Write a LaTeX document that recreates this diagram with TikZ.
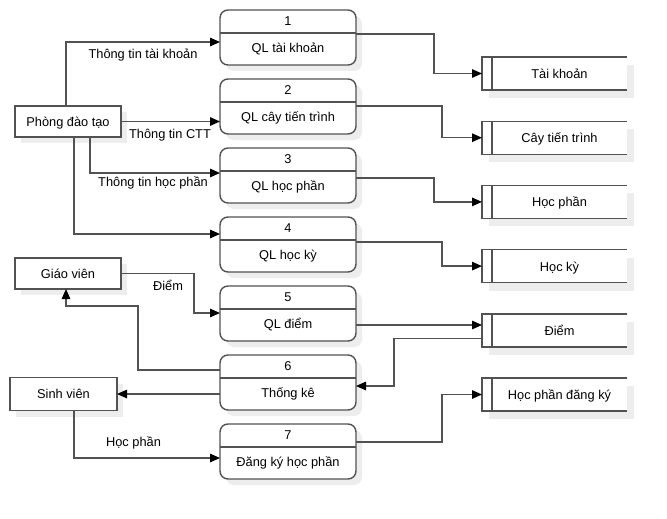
\documentclass[tikz,border=0pt]{standalone}
\usepackage{fontspec}
\setmainfont{Liberation Sans}
\usetikzlibrary{arrows.meta,calc,shadows}
\begin{document}
\begin{tikzpicture}[x=1pt,y=-1pt,
  line/.style={draw=black!68, line width=1.4pt},
  txt/.style={font=\fontsize{12.8}{15}\selectfont, inner sep=0pt, outer sep=0pt, text height=11pt, text depth=1.2pt},
  shad/.style={drop shadow={shadow xshift=6pt, shadow yshift=-6pt, fill=black!7, opacity=1}},
  proc/.style={line, rounded corners=8pt, fill=white, minimum width=136pt, minimum height=55pt, inner sep=0pt, outer sep=0pt, shad},
  ent/.style={line, fill=white, txt, minimum height=31pt, shad},
  flow/.style={line, -{Triangle[length=10pt,width=8.5pt,fill=black,color=black]}},
  storebox/.style={inner sep=0pt, outer sep=0pt, minimum width=145pt, minimum height=33pt, fill=white}
]
\useasboundingbox (0,0) rectangle (667,519);
\fill[white] (0,0) rectangle (667,519);

\newcommand\procbox[4]{%
  \node[proc] (#1) at (288,#2+27.5) {};
  \draw[line] ($(#1.north west)+(0,23)$) -- ($(#1.north east)+(0,23)$);
  \node[txt] (#1n) at ($(#1.north)+(0,11)$) {#3};
  \node[txt] (#1l) at ($(#1.north)+(0,38)$) {#4};}

\newcommand\dstore[3]{%
  \fill[black!7] (489,#2+8) rectangle (634,#2+41);
  \node[storebox] (#1) at (554.5,#2+16.5) {};
  \draw[line] (627,#2) -- (482,#2) -- (482,#2+33) -- (627,#2+33) (492,#2) -- (492,#2+33);
  \node[txt] (#1t) at (559.5,#2+16.5) {#3};}

% processes
\procbox{p1}{10}{1}{QL tài khoản}
\procbox{p2}{79}{2}{QL cây tiến trình}
\procbox{p3}{148}{3}{QL học phần}
\procbox{p4}{217}{4}{QL học kỳ}
\procbox{p5}{286}{5}{QL điểm}
\procbox{p6}{355}{6}{Thống kê}
\procbox{p7}{424}{7}{Đăng ký học phần}

% data stores
\dstore{s1}{57}{Tài khoản}
\dstore{s2}{121.2}{Cây tiến trình}
\dstore{s3}{185.4}{Học phần}
\dstore{s4}{249.6}{Học kỳ}
\dstore{s5}{313.8}{Điểm}
\dstore{s6}{378}{Học phần đăng ký}

% external entities
\node[ent, minimum width=106pt] (pdt) at (68,121.5) {Phòng đào tạo};
\node[ent, minimum width=106pt] (gv) at (68,273.5) {Giáo viên};
\node[ent, minimum width=107pt, minimum height=33pt] (sv) at (63.5,394) {Sinh viên};

% flows from Phong dao tao
\draw[flow] ($(pdt.north)+(-2,0)$) |- ($(p1.north west)+(0,32)$);
\draw[flow] (pdt.east) -- (pdt.east -| p2.west);
\draw[flow] ($(pdt.south)+(22,0)$) |- ($(p3.north west)+(0,25)$);
\draw[flow] ($(pdt.south)+(6,0)$) |- ($(p4.north west)+(0,17)$);
\node[txt] (l1) at (143,54) {Thông tin tài khoản};
\node[txt] (l2) at (170,134) {Thông tin CTT};
\node[txt] (l3) at (153,182) {Thông tin học phần};

% Giao vien / Sinh vien
\draw[flow] (gv.east) -- ++(73,0) |- ($(p5.north west)+(0,27)$);
\node[txt] (l4) at (168,286) {Điểm};
\draw[flow] ($(p6.north west)+(0,15)$) -- ++(-82,0) |- ++(-72,-64) -- ($(gv.south)+(-2,0)$);
\draw[flow] ($(p6.north west)+(0,39)$) -- (sv.east);
\draw[flow] ($(sv.south)+(10.5,0)$) |- ($(p7.north west)+(0,34)$);
\node[txt] (l5) at (133.5,442) {Học phần};

% processes to stores
\draw[flow] ($(p1.north east)+(0,24)$) -- ++(78,0) |- (s1.west);
\draw[flow] ($(p2.north east)+(0,27)$) -- ++(86,0) |- (s2.west);
\draw[flow] ($(p3.north east)+(0,30)$) -- ++(78,0) |- (s3.west);
\draw[flow] ($(p4.north east)+(0,25)$) -- ++(86,0) |- (s4.west);
\draw[flow] ($(p5.north east)+(0,39)$) coordinate (a5) -- (a5 -| s5.west);
\draw[flow] ($(s5.west)+(0,8)$) -- ++(-88,0) |- ($(p6.north east)+(0,31)$);
\draw[flow] ($(p7.north east)+(0,18)$) -- ++(86,0) |- (s6.west);
\end{tikzpicture}
\end{document}
